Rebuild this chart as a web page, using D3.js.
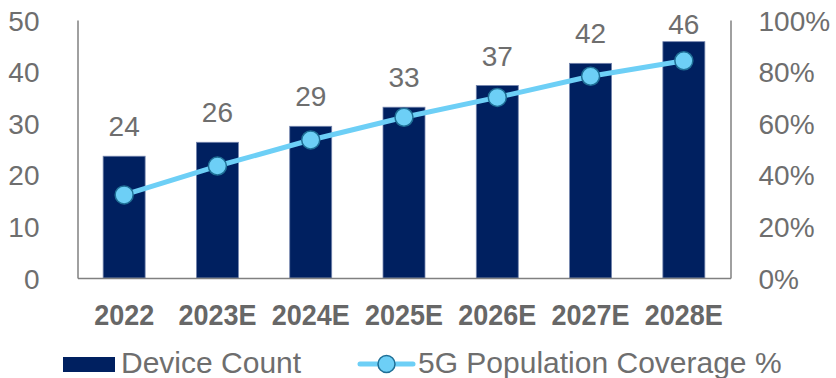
<!DOCTYPE html>
<html>
<head>
<meta charset="utf-8">
<script src="https://cdn.jsdelivr.net/npm/d3@7"></script>
<style>
  html, body { margin: 0; padding: 0; background: #ffffff; }
  svg { display: block; font-family: "Liberation Sans", Arial, sans-serif; }
</style>
</head>
<body>
<svg id="chart" width="836" height="378"></svg>
<script>
// Years on the category axis
const years = ["2022", "2023E", "2024E", "2025E", "2026E", "2027E", "2028E"];
// Device count (left axis)
const deviceCount = [23.6, 26.3, 29.4, 33.1, 37.3, 41.6, 45.8];
// 5G population coverage in percent (right axis)
const coverage = [32.2, 43.4, 53.5, 62.3, 70.0, 78.2, 84.2];
// Tick values
const leftTicks = [0, 10, 20, 30, 40, 50];
const rightTicks = [0, 20, 40, 60, 80, 100];
// Legend entries
const legendLabels = ["Device Count", "5G Population Coverage %"];

const BAR = "#002060";
const LINE = "#6dcff6";
const MARK_STROKE = "#1f6f96";
const AXIS = "#808080";
const TEXT = "#6e6e6e";

const svg = d3.select("#chart");
const plotLeft = 77.5, plotRight = 730.5, plotTop = 20, plotBottom = 278;

const x = d3.scaleBand().domain(years).range([plotLeft, plotRight])
  .paddingInner(0.55).paddingOuter(0.275);
const y = d3.scaleLinear().domain([0, 50]).range([plotBottom, plotTop]);
const y2 = d3.scaleLinear().domain([0, 100]).range([plotBottom, plotTop]);

// Bars
svg.append("g").selectAll("rect")
  .data(deviceCount)
  .join("rect")
  .attr("x", (d, i) => x(years[i]))
  .attr("y", d => y(d))
  .attr("width", x.bandwidth())
  .attr("height", d => y(0) - y(d))
  .attr("fill", BAR)
  .attr("stroke", "#7384ad")
  .attr("stroke-width", 0.8);

// Left axis
const gl = svg.append("g").attr("transform", `translate(${plotLeft},0)`)
  .call(d3.axisLeft(y).tickValues(leftTicks).tickSize(0).tickSizeOuter(0).tickPadding(38));
// Right axis
const gr = svg.append("g").attr("transform", `translate(${plotRight},0)`)
  .call(d3.axisRight(y2).tickValues(rightTicks).tickSize(0).tickSizeOuter(0).tickPadding(28)
    .tickFormat(d => d + "%"));
// Bottom axis
const gb = svg.append("g").attr("transform", `translate(0,${plotBottom})`)
  .call(d3.axisBottom(x).tickSize(0).tickSizeOuter(0));

[gl, gr, gb].forEach(g => {
  g.select(".domain").attr("stroke", AXIS).attr("stroke-width", 1.5);
});
[gl, gr].forEach(g => {
  g.selectAll("text").attr("fill", TEXT).attr("font-size", 28)
    .attr("font-family", "Liberation Sans, Arial, sans-serif").attr("dy", "0.36em");
});
gb.selectAll("text")
  .attr("fill", "#676767").attr("font-size", 30).attr("font-weight", "bold")
  .attr("font-family", "Liberation Sans, Arial, sans-serif")
  .attr("y", 47).attr("dy", 0)
  .attr("transform", "scale(0.9,1)");

// Value labels above bars
svg.append("g").selectAll("text")
  .data(deviceCount)
  .join("text")
  .attr("x", (d, i) => x(years[i]) + x.bandwidth() / 2)
  .attr("y", d => Math.max(y(d) - 20, 34))
  .attr("text-anchor", "middle")
  .attr("font-size", 28)
  .attr("fill", TEXT)
  .text(d => d3.format(".0f")(d));

// Coverage line
const line = d3.line()
  .x((d, i) => x(years[i]) + x.bandwidth() / 2)
  .y(d => y2(d));
svg.append("path")
  .datum(coverage)
  .attr("d", line)
  .attr("fill", "none")
  .attr("stroke", LINE)
  .attr("stroke-width", 5)
  .attr("stroke-linejoin", "round");
svg.append("g").selectAll("circle")
  .data(coverage)
  .join("circle")
  .attr("cx", (d, i) => x(years[i]) + x.bandwidth() / 2)
  .attr("cy", d => y2(d))
  .attr("r", 9)
  .attr("fill", LINE)
  .attr("stroke", MARK_STROKE)
  .attr("stroke-width", 1.5);

// Legend
const lg = svg.append("g");
lg.append("rect").attr("x", 63).attr("y", 357).attr("width", 52).attr("height", 15).attr("fill", BAR);
lg.append("text").attr("x", 121).attr("y", 373).attr("font-size", 30).attr("fill", TEXT).text(legendLabels[0]);
lg.append("line").attr("x1", 360).attr("x2", 413).attr("y1", 364).attr("y2", 364)
  .attr("stroke", LINE).attr("stroke-width", 5).attr("stroke-linecap", "round");
lg.append("circle").attr("cx", 386.5).attr("cy", 364).attr("r", 8.5)
  .attr("fill", LINE).attr("stroke", MARK_STROKE).attr("stroke-width", 1.5);
lg.append("text").attr("x", 418).attr("y", 373).attr("font-size", 30).attr("fill", TEXT).text(legendLabels[1]);
</script>
</body>
</html>
